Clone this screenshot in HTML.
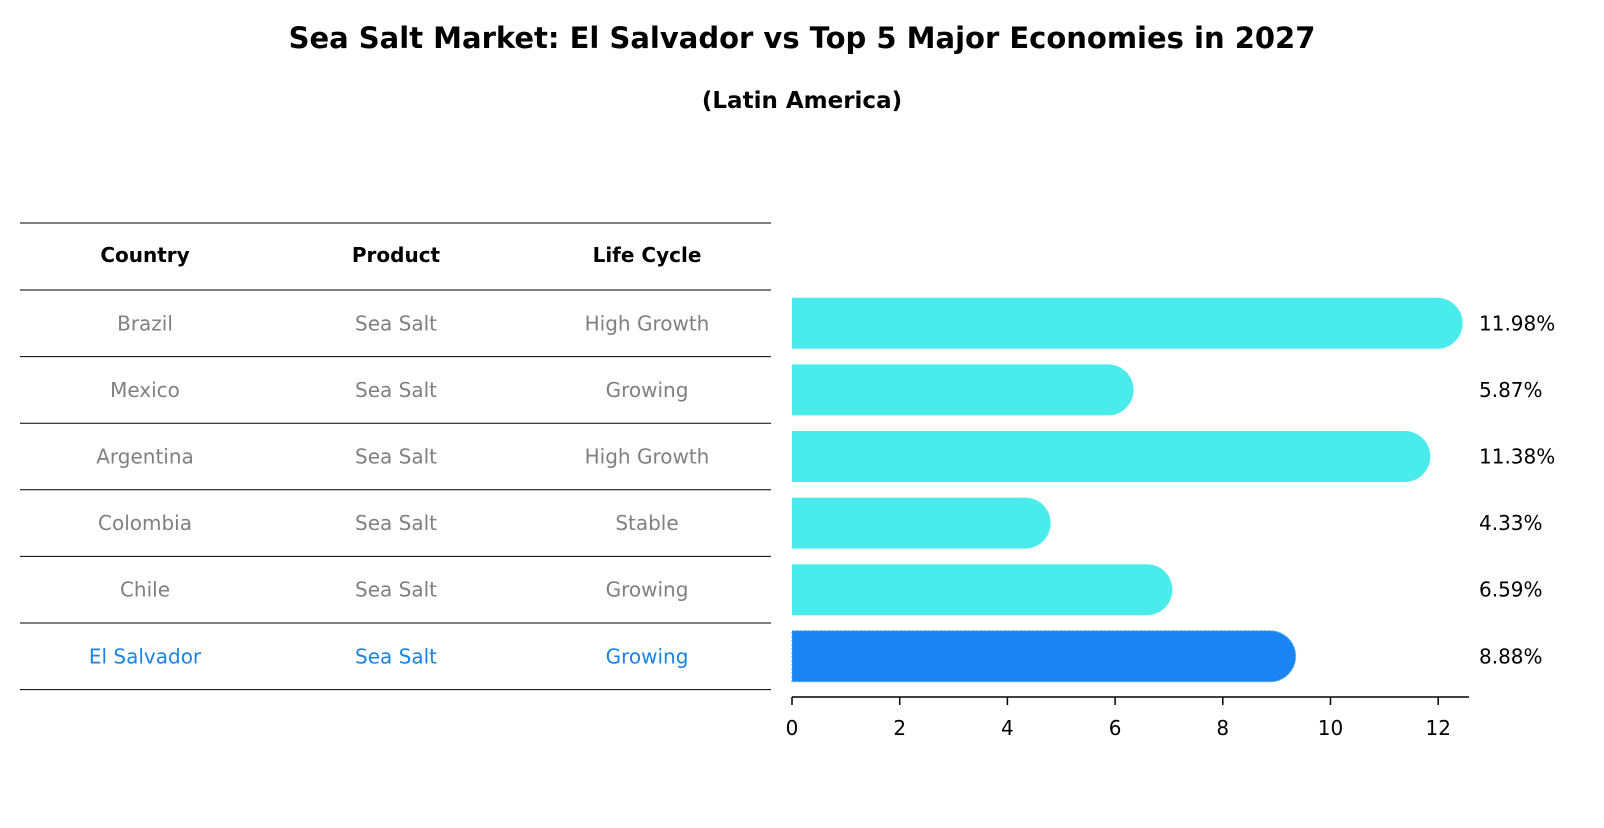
<!DOCTYPE html>
<html><head><meta charset="utf-8"><style>
body{margin:0;background:#fff;}
svg text{font-family:"DejaVu Sans","Liberation Sans",sans-serif;}
</style></head><body>
<svg id="chart" width="1604" height="823" xmlns="http://www.w3.org/2000/svg">
<text x="802" y="48" text-anchor="middle" font-size="29" font-weight="bold">Sea Salt Market: El Salvador vs Top 5 Major Economies in 2027</text>
<text x="802" y="108" text-anchor="middle" font-size="23" font-weight="bold">(Latin America)</text>
<g id="table"></g>
<g id="bars"></g>
<g id="axis"></g>
</svg>
<script>
const countries=["Brazil","Mexico","Argentina","Colombia","Chile","El Salvador"];
const products=["Sea Salt","Sea Salt","Sea Salt","Sea Salt","Sea Salt","Sea Salt"];
const lifeCycles=["High Growth","Growing","High Growth","Stable","Growing","Growing"];
const values=[11.98,5.87,11.38,4.33,6.59,8.88];
const ticks=[0,2,4,6,8,10,12];
const NS="http://www.w3.org/2000/svg";
function mk(tag,attrs,parent){const e=document.createElementNS(NS,tag);for(const k in attrs)e.setAttribute(k,attrs[k]);parent.appendChild(e);return e;}
const x0=792,xs=53.85;
function xScale(v){return x0+v*xs;}
const rowTop=290,rowH=66.6;
function yCenter(i){return rowTop+rowH*(i+0.5);}
const table=document.getElementById('table');
const bars=document.getElementById('bars');
const axis=document.getElementById('axis');
const cols=[145,396,647];
const heads=["Country","Product","Life Cycle"];
heads.forEach((h,j)=>{const t=mk('text',{x:cols[j],y:262,'text-anchor':'middle','font-size':20,'font-weight':'bold'},table);t.textContent=h;

});
const lineYs=[223];
for(let i=0;i<=countries.length;i++)lineYs.push(rowTop+rowH*i);
lineYs.forEach((y,i)=>{const l=mk('line',{x1:20,x2:771,y1:y,y2:y,stroke:'#000','stroke-width':1},table);

});
countries.forEach((c,i)=>{
 const last=i===countries.length-1;const col=last?'#1a84e6':'#808080';
 [c,products[i],lifeCycles[i]].forEach((s,j)=>{const t=mk('text',{x:cols[j],y:yCenter(i)+7,'text-anchor':'middle','font-size':20,fill:col},table);t.textContent=s;
 
 });
 const h=51,r=h/2,yc=yCenter(i),xe=xScale(values[i]);
 const d=`M${x0},${yc-r} L${xe},${yc-r} A${r},${r} 0 0 1 ${xe},${yc+r} L${x0},${yc+r} Z`;
 const p=mk('path',{d:d,fill:last?'#1a84f2':'#4aeceb'},bars);
 if(last){p.setAttribute('stroke','#5aa8f0');p.setAttribute('stroke-dasharray','2,2');p.setAttribute('stroke-width','1');}
 
 
 const t=mk('text',{x:1479,y:yc+7,'font-size':20},bars);t.textContent=values[i].toFixed(2)+'%';
 
 
});
const al=mk('line',{x1:x0,x2:1469,y1:697,y2:697,stroke:'#000','stroke-width':1.5},axis);


ticks.forEach(v=>{const x=xScale(v);const tl=mk('line',{x1:x,x2:x,y1:697,y2:705,stroke:'#000','stroke-width':1.5},axis);


const t=mk('text',{x:x,y:735,'text-anchor':'middle','font-size':20},axis);t.textContent=v;

});
</script>
</body></html>
